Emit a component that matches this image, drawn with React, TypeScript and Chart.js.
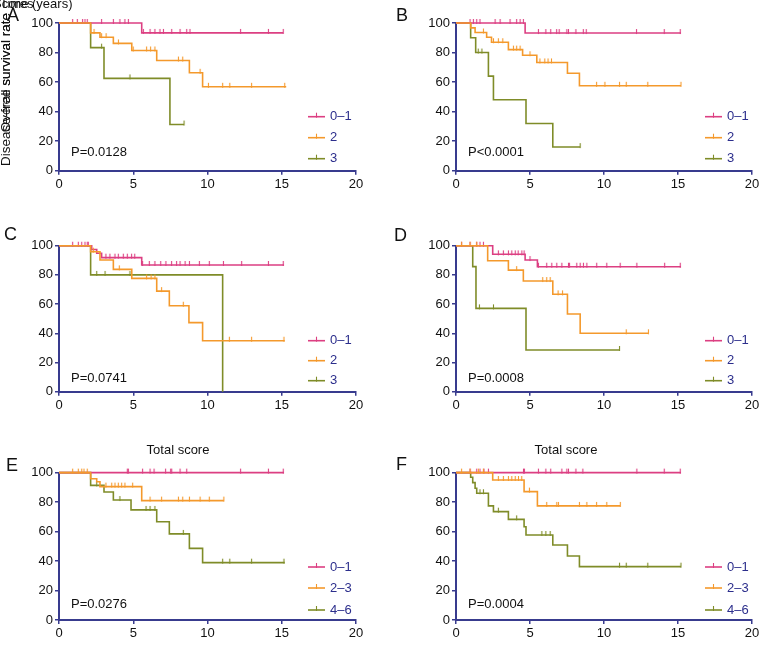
import React, { useEffect, useRef } from "react";
import { Chart, registerables } from "chart.js";

Chart.register(...registerables);

// ---------- tick labels / texts ----------
const timeTicks = [0, 5, 10, 15, 20];
const rateTicks = [0, 20, 40, 60, 80, 100];
const groupLabels = ["0–1", "2", "3"];
const totalLabels = ["0–1", "2–3", "4–6"];
const pValues = ["P=0.0128", "P<0.0001", "P=0.0741", "P=0.0008", "P=0.0276", "P=0.0004"];
const panelLetters = ["A", "B", "C", "D", "E", "F"];
const totalTitle = "Total score";

// ---------- Panel A ----------
const A01_t = [0, 5.57, 15.1];
const A01_s = [100, 93.3, 93.3];
const A01_c = [0.92, 1.23, 1.59, 1.75, 1.9, 2.87, 3.66, 4.1, 4.44, 4.67, 5.68, 6.13, 6.46, 6.8, 7.03, 7.59, 8.15, 8.6, 8.82, 12.23, 14.1, 15.1];
const A2_t = [0, 2.13, 2.76, 3.66, 4.9, 6.58, 8.78, 9.67, 15.3];
const A2_s = [100, 93.3, 90.4, 86.2, 81.4, 74.6, 66.3, 56.8, 56.8];
const A2_c = [2.36, 2.87, 3.17, 4.0, 5.0, 5.9, 6.17, 6.46, 8.04, 8.33, 9.5, 10.06, 11.02, 11.5, 12.97, 15.2];
const A3_t = [0, 2.13, 3.03, 7.47, 8.42];
const A3_s = [100, 83.3, 62.5, 31.25, 31.25];
const A3_c = [2.87, 4.78, 8.42];

// ---------- Panel B ----------
const B01_t = [0, 4.67, 15.2];
const B01_s = [100, 93.2, 93.2];
const B01_c = [0.95, 1.17, 1.4, 1.62, 2.64, 2.98, 3.65, 4.1, 4.33, 4.55, 5.57, 6.07, 6.4, 6.8, 6.97, 7.49, 7.6, 8.1, 8.6, 8.8, 12.2, 14.07, 15.15];
const B2_t = [0, 0.99, 1.29, 2.07, 2.4, 3.54, 4.5, 5.46, 7.53, 8.34, 15.2];
const B2_s = [100, 96.7, 93.6, 90.4, 87.0, 82.0, 78.2, 73.3, 66.0, 57.5, 57.5];
const B2_c = [1.85, 2.53, 2.86, 3.16, 3.88, 4.1, 4.33, 5.0, 5.67, 6.0, 6.22, 6.45, 9.5, 10.06, 11.05, 11.5, 12.96, 15.2];
const B3_t = [0, 0.99, 1.33, 2.19, 2.53, 4.73, 6.54, 8.39];
const B3_s = [100, 90, 80, 64, 48, 32, 16, 16];
const B3_c = [1.5, 1.75, 8.39];

// ---------- Panel C ----------
const C01_t = [0, 2.2, 2.54, 2.87, 5.57, 15.15];
const C01_s = [100, 97.4, 94.8, 91.8, 86.8, 86.8];
const C01_c = [0.92, 1.3, 1.53, 1.75, 1.9, 1.97, 3.16, 3.43, 3.77, 3.99, 4.33, 4.6, 4.89, 5.1, 5.63, 6.08, 6.46, 6.85, 7.2, 7.58, 7.92, 8.15, 8.49, 8.78, 9.45, 10.12, 11.07, 12.3, 14.1, 15.1];
const C2_t = [0, 2.13, 2.76, 3.66, 4.9, 6.58, 7.43, 8.75, 9.67, 15.2];
const C2_s = [100, 95.9, 90.2, 83.8, 77.6, 68.9, 58.9, 47.3, 34.9, 34.9];
const C2_c = [2.31, 4.06, 5.9, 6.2, 6.46, 6.91, 8.37, 11.47, 12.97, 15.15];
const C3_t = [0, 2.13, 11.02];
const C3_s = [100, 80, 0];
const C3_c = [2.54, 3.1, 4.78];

// ---------- Panel D ----------
const D01_t = [0, 2.48, 4.67, 5.5, 15.2];
const D01_s = [100, 94.1, 90.2, 85.6, 85.6];
const D01_c = [0.38, 0.95, 1.4, 1.62, 1.85, 2.86, 3.2, 3.54, 3.77, 4.0, 4.2, 4.45, 4.6, 5.0, 5.57, 6.13, 6.47, 6.81, 7.15, 7.6, 7.67, 8.16, 8.39, 8.61, 8.84, 9.51, 10.19, 11.09, 12.22, 14.1, 15.15];
const D2_t = [0, 2.14, 3.54, 4.55, 6.54, 7.53, 8.39, 13.0];
const D2_s = [100, 89.7, 83.3, 75.8, 66.7, 53.2, 40, 40];
const D2_c = [0.38, 0.95, 1.4, 4.1, 5.86, 6.13, 6.36, 6.9, 7.2, 11.5, 13.0];
const D3_t = [0, 1.13, 1.35, 4.73, 11.05];
const D3_s = [100, 85.7, 57.1, 28.6, 28.6];
const D3_c = [1.58, 2.53, 11.05];

// ---------- Panel E ----------
const E01_t = [0, 15.15];
const E01_s = [100, 100];
const E01_c = [4.6, 4.67, 5.63, 6.13, 6.4, 7.18, 7.52, 7.59, 8.15, 8.6, 12.23, 14.1, 15.1];
const E2_t = [0, 2.13, 2.54, 2.76, 5.57, 11.1];
const E2_s = [100, 95.8, 93.8, 90.5, 81.0, 81.0];
const E2_c = [0.92, 1.3, 1.53, 1.68, 1.9, 3.16, 3.55, 3.77, 3.99, 4.22, 4.44, 4.96, 6.13, 6.91, 8.04, 8.33, 8.78, 9.5, 10.12, 11.1];
const E3_t = [0, 2.13, 3.03, 3.66, 4.85, 6.58, 7.43, 8.78, 9.67, 15.2];
const E3_s = [100, 91.3, 86.8, 81.4, 74.7, 66.7, 58.4, 48.6, 38.9, 38.9];
const E3_c = [2.54, 4.1, 5.86, 6.13, 6.46, 8.37, 11.02, 11.5, 12.97, 15.15];

// ---------- Panel F ----------
const F01_t = [0, 15.2];
const F01_s = [100, 100];
const F01_c = [0.95, 1.4, 1.62, 1.89, 2.19, 4.56, 4.62, 5.57, 6.07, 6.4, 7.15, 7.49, 7.6, 8.1, 8.57, 12.22, 14.07, 15.15];
const F2_t = [0, 2.48, 4.6, 5.5, 11.1];
const F2_s = [100, 95, 87.1, 77.4, 77.4];
const F2_c = [0.38, 0.95, 1.51, 1.85, 2.86, 3.2, 3.54, 3.77, 4.0, 4.22, 4.44, 4.96, 6.13, 6.81, 6.92, 8.34, 8.84, 9.5, 10.19, 11.1];
const F3_t = [0, 0.99, 1.13, 1.29, 1.4, 2.19, 2.53, 3.54, 4.6, 4.73, 6.54, 7.53, 8.34, 15.2];
const F3_s = [100, 96.8, 93.2, 89.4, 86, 77.4, 73.5, 68.3, 63.3, 57.7, 50.9, 43.4, 36.2, 36.2];
const F3_c = [1.62, 1.85, 2.86, 4.1, 5.8, 6.07, 6.36, 11.05, 11.5, 12.96, 15.2];

// ---------- styling ----------
const FONT = "'Liberation Sans', Arial, Helvetica, sans-serif";
const NAVY = "#383b8e";
const LEGEND_TEXT = "#2c2e8c";
const COLORS = ["#dc3f82", "#f4992c", "#7f8c28"];

type Curve = { t: number[]; s: number[]; c: number[] };

function survAt(t: number[], s: number[], x: number) {
  let v = s[0];
  for (let i = 0; i < t.length; i++) if (t[i] <= x) v = s[i];
  return v;
}

// censor tick: short vertical mark rising above the curve
function makeTick(color: string): HTMLCanvasElement {
  const c = document.createElement("canvas");
  c.width = 3;
  c.height = 10;
  const g = c.getContext("2d")!;
  g.strokeStyle = color;
  g.lineWidth = 1.1;
  g.beginPath();
  g.moveTo(1.5, 1);
  g.lineTo(1.5, 6);
  g.stroke();
  return c;
}

const overlayPlugin = {
  id: "kmOverlay",
  afterDraw(chart: any, _args: any, opts: any) {
    const { ctx, chartArea } = chart;
    ctx.save();
    ctx.font = `13px ${FONT}`;
    ctx.textBaseline = "middle";
    ctx.textAlign = "left";
    ctx.fillStyle = "#111";
    ctx.fillText(opts.pText, chartArea.left + 12, chartArea.bottom + opts.pOffset);
    opts.labels.forEach((lab: string, i: number) => {
      const y = chartArea.bottom + opts.legendOffsets[i];
      const x0 = chartArea.left + 249;
      ctx.strokeStyle = opts.colors[i];
      ctx.lineWidth = 1.6;
      ctx.beginPath();
      ctx.moveTo(x0, y);
      ctx.lineTo(x0 + 17, y);
      ctx.stroke();
      ctx.lineWidth = 1.1;
      ctx.beginPath();
      ctx.moveTo(x0 + 8.5, y - 4);
      ctx.lineTo(x0 + 8.5, y + 1);
      ctx.stroke();
      ctx.fillStyle = LEGEND_TEXT;
      ctx.fillText(lab, x0 + 22, y);
    });
    ctx.restore();
  },
};

type PanelProps = {
  curves: Curve[];
  labels: string[];
  pText: string;
  title?: string;
  left: number;
  top: number;
  width: number;
  height: number;
  axisWidth: number;
  padRight: number;
  padTop: number;
  padBottom: number;
  pOffset: number;
  legendOffsets: number[];
};

function Panel(p: PanelProps) {
  const ref = useRef<HTMLCanvasElement | null>(null);
  useEffect(() => {
    if (!ref.current) return;
    const datasets: any[] = [];
    const drawOrder = [1, 0, 2];
    drawOrder.forEach((gi) => {
      const cv = p.curves[gi];
      const col = COLORS[gi];
      datasets.push({
        type: "line",
        data: cv.t.map((x, i) => ({ x, y: cv.s[i] })),
        stepped: "before",
        borderColor: col,
        borderWidth: 1.6,
        pointRadius: 0,
        fill: false,
        clip: 4,
      });
      datasets.push({
        type: "line",
        showLine: false,
        data: cv.c.map((x) => ({ x, y: survAt(cv.t, cv.s, x) })),
        pointStyle: makeTick(col),
        pointRadius: 3,
        borderColor: col,
        pointBorderColor: col,
        clip: false,
      });
    });
    const chart = new Chart(ref.current, {
      type: "line",
      data: { datasets },
      plugins: [overlayPlugin as any],
      options: {
        responsive: true,
        maintainAspectRatio: false,
        animation: false,
        events: [],
        layout: { padding: { left: 0, right: p.padRight, top: p.padTop, bottom: p.padBottom } },
        plugins: {
          legend: { display: false },
          tooltip: { enabled: false },
          title: {
            display: !!p.title,
            text: p.title || "",
            color: "#111",
            font: { family: FONT, size: 13, weight: "normal" },
            padding: { top: 13, bottom: 14 },
          },
          kmOverlay: {
            pText: p.pText,
            labels: p.labels,
            colors: COLORS,
            pOffset: p.pOffset,
            legendOffsets: p.legendOffsets,
          },
        } as any,
        scales: {
          x: {
            type: "linear",
            min: 0,
            max: 20,
            afterBuildTicks: (s: any) => {
              s.ticks = timeTicks.map((v) => ({ value: v }));
            },
            afterFit: (s: any) => {
              s.height = 30;
            },
            ticks: { color: "#111", font: { family: FONT, size: 13 }, padding: 2, maxRotation: 0, autoSkip: false },
            grid: { display: true, drawOnChartArea: false, drawTicks: true, tickLength: 4, color: NAVY, lineWidth: 1.5 },
            border: { display: true, color: NAVY, width: 2 },
          },
          y: {
            type: "linear",
            min: 0,
            max: 100,
            afterBuildTicks: (s: any) => {
              s.ticks = rateTicks.map((v) => ({ value: v }));
            },
            afterFit: (s: any) => {
              s.width = p.axisWidth;
            },
            ticks: { color: "#111", font: { family: FONT, size: 13 }, padding: 2, autoSkip: false },
            grid: { display: true, drawOnChartArea: false, drawTicks: true, tickLength: 4, color: NAVY, lineWidth: 1.5 },
            border: { display: true, color: NAVY, width: 2 },
          },
        },
      } as any,
    });
    return () => chart.destroy();
  }, []);
  return (
    <div style={{ position: "absolute", left: p.left, top: p.top, width: p.width, height: p.height }}>
      <canvas ref={ref} />
    </div>
  );
}

const letterStyle = (left: number, top: number): React.CSSProperties => ({
  position: "absolute",
  left,
  top,
  fontFamily: FONT,
  fontSize: 18,
  lineHeight: "18px",
  color: "#111",
  whiteSpace: "nowrap",
});

const sideLabel: React.CSSProperties = {
  position: "absolute",
  left: -1,
  top: 13,
  fontFamily: FONT,
  fontSize: 13.5,
  lineHeight: "13.5px",
  color: "#111",
  writingMode: "vertical-rl",
  transform: "rotate(180deg)",
  whiteSpace: "nowrap",
};

const topLabel = (left: number): React.CSSProperties => ({
  position: "absolute",
  left,
  top: -3.4,
  fontFamily: FONT,
  fontSize: 13,
  lineHeight: "13px",
  color: "#111",
  whiteSpace: "nowrap",
});

export default function App() {
  const groupOffsetsTop = [-54, -33, -12];
  const groupOffsetsMid = [-51, -31, -11];
  const groupOffsetsBot = [-53, -32, -10];
  return (
    <div style={{ position: "absolute", left: 0, top: 0, width: 765, height: 659, overflow: "hidden", background: "#fff" }}>
      <Panel
        curves={[{ t: A01_t, s: A01_s, c: A01_c }, { t: A2_t, s: A2_s, c: A2_c }, { t: A3_t, s: A3_s, c: A3_c }]}
        labels={groupLabels} pText={pValues[0]}
        left={0} top={0} width={380} height={205} axisWidth={59} padRight={24} padTop={23} padBottom={4.3}
        pOffset={-18} legendOffsets={groupOffsetsTop}
      />
      <Panel
        curves={[{ t: B01_t, s: B01_s, c: B01_c }, { t: B2_t, s: B2_s, c: B2_c }, { t: B3_t, s: B3_s, c: B3_c }]}
        labels={groupLabels} pText={pValues[1]}
        left={380} top={0} width={385} height={205} axisWidth={76} padRight={13} padTop={23} padBottom={4.3}
        pOffset={-18} legendOffsets={groupOffsetsTop}
      />
      <Panel
        curves={[{ t: C01_t, s: C01_s, c: C01_c }, { t: C2_t, s: C2_s, c: C2_c }, { t: C3_t, s: C3_s, c: C3_c }]}
        labels={groupLabels} pText={pValues[2]}
        left={0} top={215} width={380} height={210} axisWidth={59} padRight={24} padTop={30.7} padBottom={3.3}
        pOffset={-13} legendOffsets={groupOffsetsMid}
      />
      <Panel
        curves={[{ t: D01_t, s: D01_s, c: D01_c }, { t: D2_t, s: D2_s, c: D2_c }, { t: D3_t, s: D3_s, c: D3_c }]}
        labels={groupLabels} pText={pValues[3]}
        left={380} top={215} width={385} height={210} axisWidth={76} padRight={13} padTop={30.7} padBottom={3.3}
        pOffset={-13} legendOffsets={groupOffsetsMid}
      />
      <Panel
        curves={[{ t: E01_t, s: E01_s, c: E01_c }, { t: E2_t, s: E2_s, c: E2_c }, { t: E3_t, s: E3_s, c: E3_c }]}
        labels={totalLabels} pText={pValues[4]} title={totalTitle}
        left={0} top={430} width={380} height={225} axisWidth={59} padRight={24} padTop={0} padBottom={5}
        pOffset={-16} legendOffsets={groupOffsetsBot}
      />
      <Panel
        curves={[{ t: F01_t, s: F01_s, c: F01_c }, { t: F2_t, s: F2_s, c: F2_c }, { t: F3_t, s: F3_s, c: F3_c }]}
        labels={totalLabels} pText={pValues[5]} title={totalTitle}
        left={380} top={430} width={385} height={225} axisWidth={76} padRight={13} padTop={0} padBottom={5}
        pOffset={-16} legendOffsets={groupOffsetsBot}
      />
      <div style={letterStyle(7, 5.6)}>{panelLetters[0]}</div>
      <div style={letterStyle(396, 5.6)}>{panelLetters[1]}</div>
      <div style={letterStyle(4, 224.7)}>{panelLetters[2]}</div>
      <div style={letterStyle(394, 225.6)}>{panelLetters[3]}</div>
      <div style={letterStyle(6, 455.6)}>{panelLetters[4]}</div>
      <div style={letterStyle(396, 454.6)}>{panelLetters[5]}</div>
      <div style={sideLabel}>Disease-free survival rate</div>
      <div style={sideLabel}>Overall survival rate</div>
      <div style={topLabel(0)}>Time (years)</div>
      <div style={topLabel(-7)}>Scores</div>
    </div>
  );
}
